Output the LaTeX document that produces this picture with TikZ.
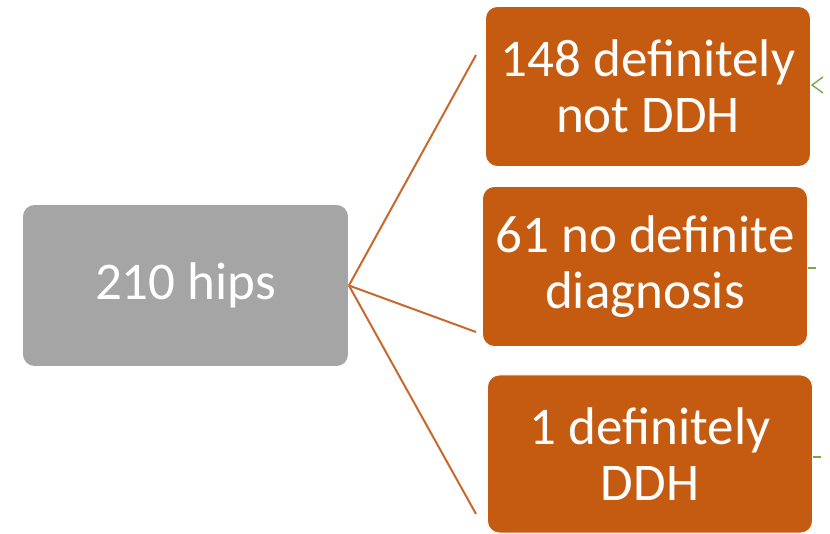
\documentclass[tikz,border=0pt]{standalone}
\usepackage{fontspec}
\setmainfont{Carlito}
\definecolor{boxor}{HTML}{C55A11}
\definecolor{boxgr}{HTML}{A5A5A5}
\definecolor{lnor}{HTML}{C8682C}
\definecolor{lngreen}{HTML}{70AD47}
\begin{document}
\begin{tikzpicture}[x=1pt,y=-1pt,
  basebox/.style={rounded corners=12pt, draw=white, line width=0.8pt, text=white,
    align=center, inner sep=0pt, font=\fontsize{53}{56}\selectfont},
  orbox/.style={basebox, fill=boxor, minimum width=325pt, minimum height=160pt},
  grbox/.style={basebox, fill=boxgr, minimum width=326pt, minimum height=162pt},
  link/.style={draw=lnor, line width=2pt},
  glink/.style={draw=lngreen, line width=1.4pt}]
\useasboundingbox (0,0) rectangle (830,534);
\node[grbox] (g) at (185.5,285.5) {210 hips};
\node[orbox] (a) at (648,86.5) {148 definitely\\not DDH};
\node[orbox] (b) at (645,266.5) {61 no definite\\diagnosis};
\node[orbox, minimum height=158pt] (c) at (650,454) {1 definitely\\DDH};
\coordinate (ea) at (476,55);
\coordinate (eb) at (476,332);
\coordinate (ec) at (476,514);
\draw[link] (g.east) -- (ea);
\draw[link] (g.east) -- (eb);
\draw[link] (g.east) -- (ec);
% green connector fragments at right edge
\coordinate (ta) at (812,85);
\coordinate (ta1) at (823,77);
\coordinate (ta2) at (823,93);
\draw[glink] (ta1) -- (ta) -- (ta2);
\coordinate (tb) at (816,268);
\draw[glink] (b.east |- tb) -- (tb);
\coordinate (tc) at (821,457);
\draw[glink] (c.east |- tc) -- (tc);
\end{tikzpicture}
\end{document}
